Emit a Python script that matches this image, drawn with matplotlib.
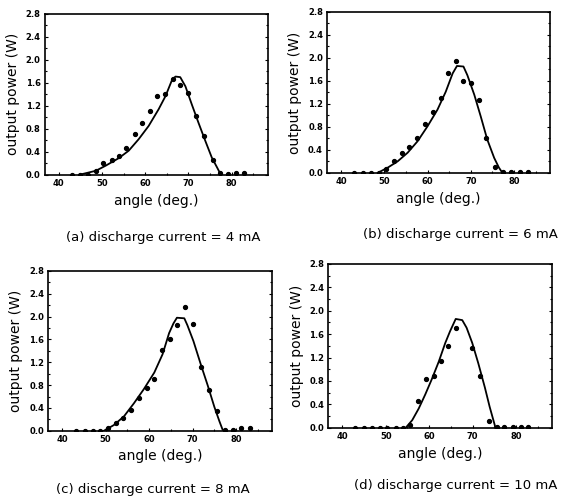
import matplotlib.pyplot as plt
from matplotlib.ticker import MultipleLocator

# measured points (angle in deg, output power in W)
pts_a_x = [43.0, 44.9, 46.8, 48.6, 50.3, 52.3, 53.9, 55.6, 57.6, 59.3, 61.1, 62.8, 64.5, 66.4,
           68.1, 70.0, 71.8, 73.6, 75.6, 77.3, 79.2, 81.0, 82.8]
pts_a_y = [0.0, 0.0, 0.0, 0.06, 0.2, 0.26, 0.32, 0.46, 0.71, 0.91, 1.11, 1.37, 1.41, 1.67,
           1.57, 1.42, 1.03, 0.68, 0.25, 0.03, 0.02, 0.03, 0.03]

pts_b_x = [43.1, 45.0, 46.9, 48.7, 50.4, 52.3, 54.0, 55.8, 57.5, 59.4, 61.2, 63.0, 64.7, 66.5,
           68.3, 70.1, 71.8, 73.6, 75.7, 77.5, 79.4, 81.3, 83.2]
pts_b_y = [0.0, 0.0, 0.0, 0.0, 0.06, 0.2, 0.35, 0.45, 0.61, 0.85, 1.06, 1.30, 1.74, 1.95,
           1.6, 1.56, 1.26, 0.6, 0.1, 0.02, 0.02, 0.02, 0.02]

pts_c_x = [43.3, 45.2, 47.1, 48.8, 50.6, 52.3, 54.1, 55.8, 57.6, 59.5, 61.2, 62.9, 64.7, 66.4,
           68.2, 70.0, 71.9, 73.7, 75.6, 77.5, 79.3, 81.2, 83.1]
pts_c_y = [0.0, 0.0, 0.0, 0.0, 0.05, 0.13, 0.22, 0.36, 0.57, 0.75, 0.9, 1.41, 1.61, 1.85,
           2.16, 1.87, 1.11, 0.72, 0.34, 0.02, 0.02, 0.04, 0.04]

pts_d_x = [43.0, 44.9, 46.8, 48.7, 50.4, 52.3, 54.0, 55.7, 57.5, 59.3, 61.0, 62.8, 64.4, 66.2,
           69.9, 71.7, 73.8, 75.6, 77.3, 79.2, 81.0, 82.8]
pts_d_y = [0.0, 0.0, 0.0, 0.0, 0.0, 0.0, 0.0, 0.05, 0.45, 0.83, 0.88, 1.14, 1.40, 1.71,
           1.37, 0.89, 0.12, 0.02, 0.02, 0.02, 0.02, 0.02]

# fitted curves
fit_a_x = [44.75, 48.6, 50.9, 53.9, 56.2, 58.5, 60.8, 63.1, 64.7, 66.2, 67.0, 68.1, 69.3, 70.8,
           72.3, 73.9, 75.4, 76.6, 77.5]
fit_a_y = [0.0, 0.07, 0.16, 0.29, 0.42, 0.62, 0.85, 1.14, 1.37, 1.65, 1.71, 1.70, 1.54, 1.22,
           0.91, 0.59, 0.30, 0.13, 0.0]

fit_b_x = [48.5, 50.8, 53.1, 55.4, 57.7, 60.0, 62.3, 64.2, 65.8, 66.8, 68.3, 69.2, 70.8, 72.3,
           73.8, 75.4, 76.5, 77.3]
fit_b_y = [0.0, 0.09, 0.2, 0.35, 0.55, 0.81, 1.10, 1.41, 1.73, 1.86, 1.85, 1.70, 1.36, 0.98,
           0.58, 0.26, 0.09, 0.0]

fit_c_x = [49.6, 51.9, 54.2, 56.5, 58.8, 61.2, 63.1, 64.6, 65.6, 66.4, 68.1, 68.8, 70.2, 71.9,
           73.5, 75.0, 76.2, 76.9, 77.2]
fit_c_y = [0.0, 0.1, 0.25, 0.48, 0.73, 1.02, 1.34, 1.71, 1.88, 1.98, 1.97, 1.85, 1.57, 1.16,
           0.79, 0.42, 0.16, 0.02, 0.0]

fit_d_x = [54.6, 56.1, 57.6, 59.1, 60.6, 62.2, 63.7, 64.8, 66.1, 67.6, 68.6, 69.9, 71.3, 72.8,
           73.9, 75.1, 75.2]
fit_d_y = [0.0, 0.13, 0.33, 0.57, 0.83, 1.13, 1.45, 1.65, 1.86, 1.84, 1.71, 1.45, 1.10, 0.69,
           0.36, 0.04, 0.0]

captions = ['(a) discharge current = 4 mA', '(b) discharge current = 6 mA',
            '(c) discharge current = 8 mA', '(d) discharge current = 10 mA']

fig = plt.figure(figsize=(5.67, 4.98), dpi=100)
boxes = [[0.079, 0.649, 0.393, 0.323],
         [0.577, 0.653, 0.393, 0.323],
         [0.085, 0.135, 0.395, 0.321],
         [0.579, 0.141, 0.395, 0.329]]
caption_pos = [(0.288, 0.524), (0.812, 0.530), (0.270, 0.018), (0.803, 0.026)]

panels = [(pts_a_x, pts_a_y, fit_a_x, fit_a_y),
          (pts_b_x, pts_b_y, fit_b_x, fit_b_y),
          (pts_c_x, pts_c_y, fit_c_x, fit_c_y),
          (pts_d_x, pts_d_y, fit_d_x, fit_d_y)]

for i in range(4):
    px, py, fx, fy = panels[i]
    ax = fig.add_axes(boxes[i])
    ax.plot(fx, fy, color='black', lw=1.3)
    ax.plot(px, py, 'o', color='black', ms=2.8)
    ax.set_xlim(36.8, 88.3)
    ax.set_ylim(0, 2.8)
    ax.xaxis.set_major_locator(MultipleLocator(10))
    ax.xaxis.set_minor_locator(MultipleLocator(5))
    ax.yaxis.set_major_locator(MultipleLocator(0.4))
    ax.yaxis.set_minor_locator(MultipleLocator(0.2))
    ax.set_xticks([40, 50, 60, 70, 80])
    ax.set_xticklabels(['40', '50', '60', '70', '80'], fontsize=6, fontweight='bold')
    ax.set_yticks([0.0, 0.4, 0.8, 1.2, 1.6, 2.0, 2.4, 2.8])
    ax.set_yticklabels(['0.0', '0.4', '0.8', '1.2', '1.6', '2.0', '2.4', '2.8'],
                       fontsize=6, fontweight='bold')
    ax.tick_params(which='both', direction='in', right=True, length=2.5, width=0.8, pad=3)
    ax.tick_params(which='minor', length=1.5)
    for s in ax.spines.values():
        s.set_linewidth(1.2)
    ax.set_xlabel('angle (deg.)', fontsize=10, labelpad=4)
    ax.set_ylabel('output power (W)', fontsize=10, labelpad=4)
    fig.text(caption_pos[i][0], caption_pos[i][1], captions[i], fontsize=9.5,
             ha='center', va='center')

plt.savefig('out.png', dpi=100)
